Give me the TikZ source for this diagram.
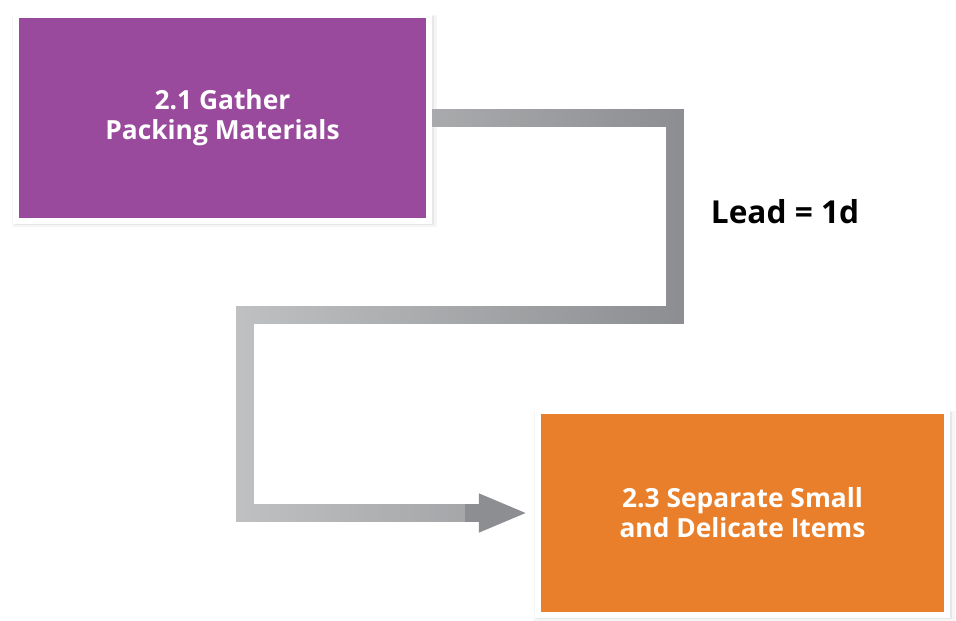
\documentclass[tikz,border=0pt]{standalone}
\usepackage{fontspec}
\setmainfont{Open Sans}
\usepackage{tikz}
\usetikzlibrary{arrows.meta,shadows,fadings}
\definecolor{taskpurple}{RGB}{153,74,156}
\definecolor{taskorange}{RGB}{233,127,42}
\definecolor{leadgray}{RGB}{140,142,145}
\tikzfading[name=fadelight, left color=transparent!55, right color=transparent!100]

\begin{document}
\begin{tikzpicture}
[%%%%%%%%%%%%%%%%%%%%%%%%%%%%%%
x=0.02cm, y=-0.02cm,
task/.style={rectangle, draw=white, line width=3.4pt, text=white, font=\bfseries\fontsize{15}{17}\selectfont, align=center,
  drop shadow={shadow xshift=1pt, shadow yshift=-1.5pt, opacity=.16, shadow scale=1.00},
  drop shadow={shadow xshift=1pt, shadow yshift=-1.5pt, opacity=.12, shadow scale=1.015},
  drop shadow={shadow xshift=1pt, shadow yshift=-1.5pt, opacity=.08, shadow scale=1.03}},
conn/.style={line width=10.8pt, color=leadgray, miter limit=10},
]%%%%%%%%%%%%%%%%%%%%%%%%%%%%%%
\useasboundingbox (0,0) rectangle (956,621);

\node[task, fill=taskpurple, minimum width=8.26cm, minimum height=4.12cm] (gather) at (222.5,118)
  {2.1 Gather\\Packing Materials};
\node[task, fill=taskorange, minimum width=8.18cm, minimum height=4.08cm] (separate) at (742.5,513)
  {2.3 Separate Small\\and Delicate Items};

\coordinate (turnA) at (675,315);
\coordinate (turnB) at (245,513);

% lead arrow
\draw[conn, -{Triangle[length=28pt,width=20pt]}, shorten >=4pt]
  (gather.east) -| (turnA) -| (turnB) -- (separate.west);
\draw[conn, white, path fading=fadelight]
  (gather.east) -| (turnA) -| (turnB) -- ([xshift=-40pt]separate.west);

\node[font=\bfseries\fontsize{18}{20}\selectfont] (lead) at (785,212) {Lead = 1d};
\end{tikzpicture}
\end{document}
